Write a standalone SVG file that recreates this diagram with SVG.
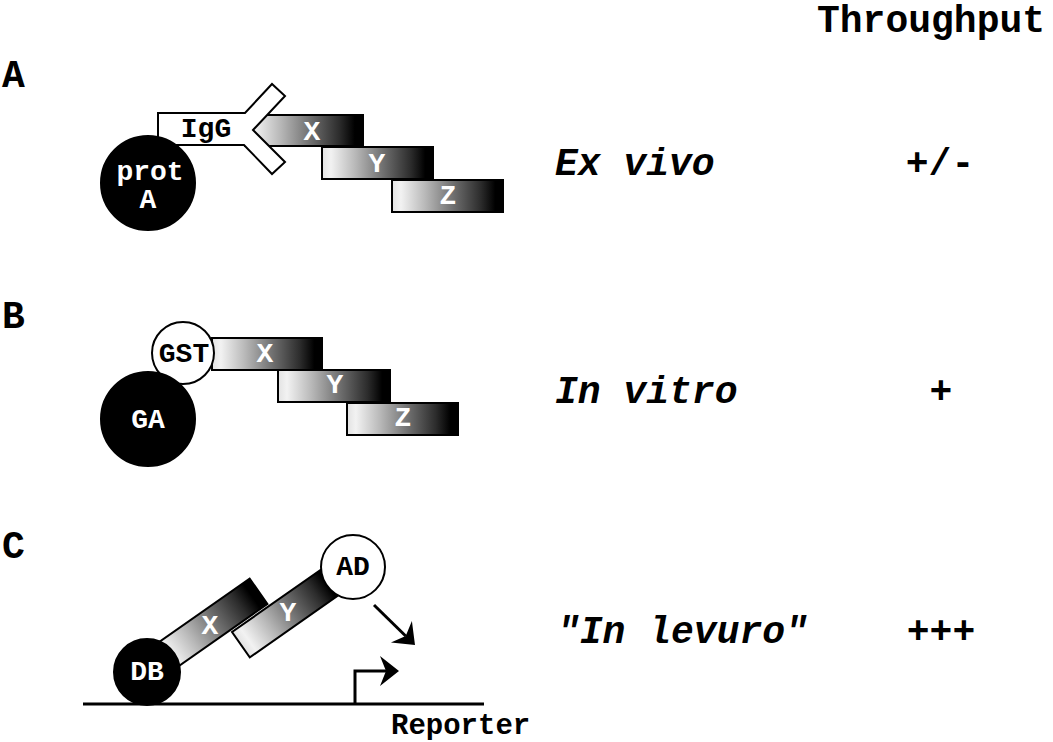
<svg xmlns="http://www.w3.org/2000/svg" width="1053" height="742" viewBox="0 0 1053 742">
<style>
.lbl{font-family:"Liberation Mono","Courier New",monospace;font-weight:bold;fill:#000}
.big{font-size:38px}
.it{font-style:italic}
.in{font-family:"Liberation Mono","Courier New",monospace;font-weight:bold;font-size:28px;text-anchor:middle}
.w{fill:#fff}
.k{fill:#000}
.bar{fill:url(#grad);stroke:#000;stroke-width:2}
.wc{fill:#fff;stroke:#000;stroke-width:2}
.bc{fill:#000;stroke:#000;stroke-width:2}
.ln{fill:none;stroke:#000;stroke-width:3}
</style>
<defs>
<linearGradient id="grad" x1="0" y1="0" x2="1" y2="0">
<stop offset="0" stop-color="#e2e2e2"/>
<stop offset="0.08" stop-color="#f2f2f2"/>
<stop offset="0.3" stop-color="#b8b8b8"/>
<stop offset="0.55" stop-color="#707070"/>
<stop offset="0.8" stop-color="#2c2c2c"/>
<stop offset="0.93" stop-color="#000"/>
<stop offset="1" stop-color="#000"/>
</linearGradient>
<marker id="arr" markerUnits="userSpaceOnUse" viewBox="-8 -16 24 32" markerWidth="24" markerHeight="32" refX="0" refY="0" orient="auto">
<path d="M13,0 L-6,-15 L0,0 L-6,15 Z" fill="#000"/>
</marker>
</defs>
<rect width="1053" height="742" fill="#fff"/>

<g id="labels">
<text class="lbl big" x="2" y="87">A</text>
<text class="lbl big" x="2" y="328">B</text>
<text class="lbl big" x="2" y="558">C</text>
<text class="lbl big" x="817" y="32">Throughput</text>
<text class="lbl big it" x="555" y="175">Ex vivo</text>
<text class="lbl big" x="940" y="175" text-anchor="middle">+/-</text>
<text class="lbl big it" x="555" y="403">In vitro</text>
<text class="lbl big" x="941" y="403" text-anchor="middle">+</text>
<text class="lbl big it" x="557" y="643">"In levuro"</text>
<text class="lbl big" x="941" y="643" text-anchor="middle">+++</text>
</g>

<!-- Panel A -->
<g id="A-X"><rect class="bar" x="245" y="115" width="118" height="31"/><text class="in w" x="312" y="140">X</text></g>
<g id="A-Y"><rect class="bar" x="322" y="147" width="111" height="32"/><text class="in w" x="377" y="172">Y</text></g>
<g id="A-Z"><rect class="bar" x="392" y="180" width="111" height="32"/><text class="in w" x="448" y="204">Z</text></g>
<g id="A-IgG"><path class="wc" d="M158,113 L245,113 L272,84 L285,96 L253,130 L285,162 L272,174 L244,145 L158,145 Z"/><text class="in k" x="206" y="137">IgG</text></g>
<g id="A-protA"><circle class="bc" cx="148" cy="183" r="47"/><text class="in w" x="150" y="180">prot</text><text class="in w" x="148" y="208">A</text></g>

<!-- Panel B -->
<g id="B-X"><rect class="bar" x="212" y="338" width="110" height="32"/><text class="in w" x="265" y="362">X</text></g>
<g id="B-Y"><rect class="bar" x="278" y="370" width="112" height="32"/><text class="in w" x="335" y="393">Y</text></g>
<g id="B-Z"><rect class="bar" x="347" y="403" width="111" height="32"/><text class="in w" x="403" y="426">Z</text></g>
<g id="B-GST"><circle class="wc" cx="183" cy="353" r="31"/><text class="in k" x="184" y="362">GST</text></g>
<g id="B-GA"><circle class="bc" cx="148" cy="419" r="47"/><text class="in w" x="148" y="428">GA</text></g>

<!-- Panel C -->
<g id="C-DNA"><line class="ln" x1="83" y1="704" x2="484" y2="704"/><text class="lbl" font-size="29" x="391" y="734">Reporter</text></g>
<g id="C-X"><rect class="bar" transform="translate(153.8,645.7) rotate(-35)" x="0" y="0" width="117" height="31"/><text class="in w" x="210" y="634">X</text></g>
<g id="C-Y"><rect class="bar" transform="translate(232,632) rotate(-35)" x="0" y="0" width="113" height="31"/><text class="in w" x="288" y="621">Y</text></g>
<g id="C-DB"><circle class="bc" cx="147" cy="672" r="33"/><text class="in w" x="147" y="680">DB</text></g>
<g id="C-AD"><circle class="wc" cx="353" cy="567" r="32"/><text class="in k" x="353" y="575">AD</text></g>

<g id="connectors">
<path class="ln" d="M374,605 L405.7,636" marker-end="url(#arr)"/>
<path class="ln" d="M355,704 L355,671 L386,671" marker-end="url(#arr)"/>
</g>
</svg>
